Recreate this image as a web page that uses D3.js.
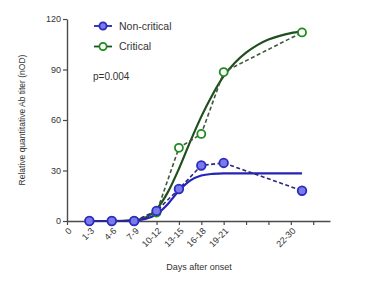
<!DOCTYPE html>
<html>
<head>
<meta charset="utf-8">
<script src="https://cdn.jsdelivr.net/npm/d3@7"></script>
<style>
  body { margin: 0; background: #fff; }
  svg text { font-family: "Liberation Sans", Arial, sans-serif; fill: #333; }
</style>
</head>
<body>
<svg width="366" height="288"></svg>
<script>
// data
const xTicks = [0, 1, 2, 3, 4, 5, 6, 7, 8, 9, 10, 11]
const xTickLabels = ['0', '1-3', '4-6', '7-9', '10-12', '13-15', '16-18', '19-21', '', '', '22-30', '']
const yTicks = [0, 30, 60, 90, 120]

const groupX = [1, 2, 3, 4, 5, 6, 7, 10.5]
const nonCritical = [0, 0, 0, 6, 19, 33, 34.5, 18]
const critical = [0, 0, 0, 5, 43.5, 51.7, 88.5, 112]

// fitted curves
const fitX = [1, 2, 3, 3.5, 4, 4.5, 5, 5.5, 6, 6.5, 7, 7.5, 8, 8.5, 9, 9.5, 10, 10.5]
const nonCriticalFit = [0, 0, 0.3, 1.2, 4, 10, 18, 24, 27, 28, 28.3, 28.3, 28.3, 28.3, 28.3, 28.3, 28.3, 28.3]
const criticalFit = [0, 0, 0.5, 2, 7, 17, 31, 47, 62, 75, 86, 94, 100, 104.5, 107.8, 110, 111.6, 112.6]

const svg = d3.select('svg')
const plotLeft = 67, plotRight = 330, plotTop = 19, plotBottom = 221

const xScale = d3.scaleLinear().domain([0, 11.75]).range([plotLeft, plotRight])
const yScale = d3.scaleLinear().domain([0, 120]).range([plotBottom, plotTop])

const axisColor = '#4a4a4a'

// axes
const xAxis = d3.axisBottom(xScale)
  .tickValues(xTicks)
  .tickFormat((d, i) => xTickLabels[i])
  .tickSize(4)
  .tickSizeOuter(0)
const gx = svg.append('g')
  .attr('transform', 'translate(0,' + plotBottom + ')')
  .call(xAxis)
gx.select('.domain').attr('stroke', axisColor).attr('stroke-width', 1.4)
gx.selectAll('.tick line').attr('stroke', axisColor).attr('stroke-width', 1.2)
gx.selectAll('.tick text')
  .attr('font-size', 9)
  .attr('text-anchor', 'end')
  .attr('transform', 'rotate(-45)')
  .attr('x', -4)
  .attr('y', 8)
  .attr('dy', '0.32em')

const yAxis = d3.axisLeft(yScale)
  .tickValues(yTicks)
  .tickSize(4)
  .tickSizeOuter(0)
const gy = svg.append('g')
  .attr('transform', 'translate(' + plotLeft + ',0)')
  .call(yAxis)
gy.select('.domain').attr('stroke', axisColor).attr('stroke-width', 1.4)
gy.selectAll('.tick line').attr('stroke', axisColor).attr('stroke-width', 1.2)
gy.selectAll('.tick text').attr('font-size', 9).attr('x', -6)

// axis titles
svg.append('text')
  .attr('transform', 'translate(25,' + ((plotTop + plotBottom) / 2) + ') rotate(-90)')
  .attr('text-anchor', 'middle')
  .attr('font-size', 8.5)
  .text('Relative quantitative Ab titer (nOD)')

svg.append('text')
  .attr('x', 199)
  .attr('y', 270)
  .attr('text-anchor', 'middle')
  .attr('font-size', 9)
  .text('Days after onset')

// lines
const fitLine = d3.line()
  .x(d => xScale(d[0]))
  .y(d => yScale(d[1]))
  .curve(d3.curveMonotoneX)
const dashLine = d3.line()
  .x(d => xScale(d[0]))
  .y(d => yScale(d[1]))

const series = [
  { name: 'Non-critical', pts: groupX.map((x, i) => [x, nonCritical[i]]), fit: fitX.map((x, i) => [x, nonCriticalFit[i]]),
    fitColor: '#2424b8', dashColor: '#2a2a7a', stroke: '#2b2bc0', fill: '#7a7aec', r: 4.3 },
  { name: 'Critical', pts: groupX.map((x, i) => [x, critical[i]]), fit: fitX.map((x, i) => [x, criticalFit[i]]),
    fitColor: '#1f4f1f', dashColor: '#3d5a3d', stroke: '#1e8c1e', fill: '#ffffff', r: 4 }
]

// draw critical first so non-critical sits on top
const order = [series[1], series[0]]
order.forEach(s => {
  svg.append('path')
    .attr('d', fitLine(s.fit))
    .attr('fill', 'none')
    .attr('stroke', s.fitColor)
    .attr('stroke-width', 2.2)
  svg.append('path')
    .attr('d', dashLine(s.pts))
    .attr('fill', 'none')
    .attr('stroke', s.dashColor)
    .attr('stroke-width', 1.6)
    .attr('stroke-dasharray', '4,2.5')
})
order.forEach(s => {
  svg.selectAll(null)
    .data(s.pts)
    .enter()
    .append('circle')
    .attr('cx', d => xScale(d[0]))
    .attr('cy', d => yScale(d[1]))
    .attr('r', s.r)
    .attr('fill', s.fill)
    .attr('stroke', s.stroke)
    .attr('stroke-width', 1.8)
})

// legend
const legend = svg.append('g')
series.forEach((s, i) => {
  const y = 26 + i * 20.5
  legend.append('line')
    .attr('x1', 94).attr('x2', 112).attr('y1', y).attr('y2', y)
    .attr('stroke', s.fitColor).attr('stroke-width', 1.8)
  legend.append('circle')
    .attr('cx', 103).attr('cy', y).attr('r', 3.6)
    .attr('fill', s.fill).attr('stroke', s.stroke).attr('stroke-width', 1.8)
  legend.append('text')
    .attr('x', 119).attr('y', y).attr('dy', '0.35em')
    .attr('font-size', 10.5)
    .text(s.name)
})
legend.append('text')
  .attr('x', 93).attr('y', 76).attr('dy', '0.35em')
  .attr('font-size', 10)
  .text('p=0.004')
</script>
</body>
</html>
